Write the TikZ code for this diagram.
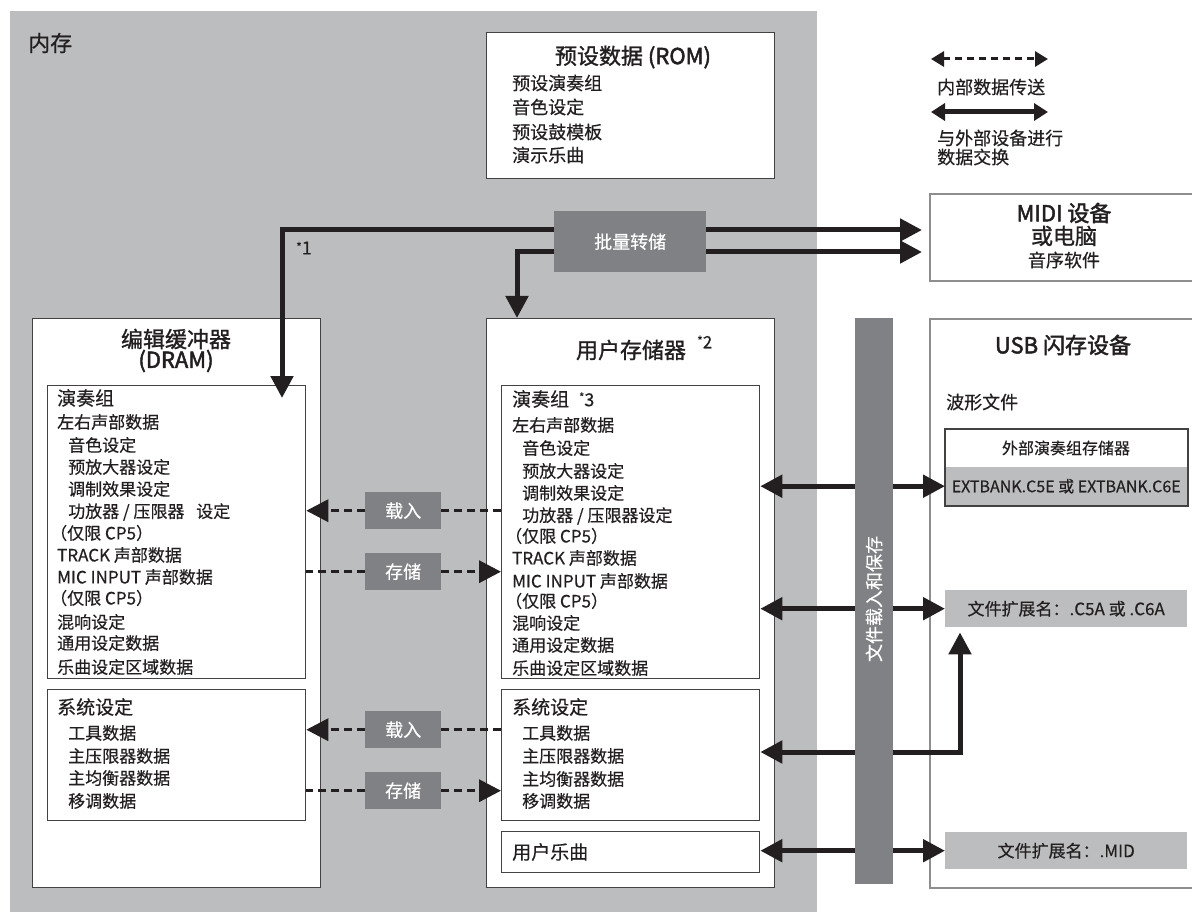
\documentclass[tikz,border=0pt]{standalone}
\usepackage{fontspec}
\setmainfont{Noto Sans CJK SC}[FakeBold=0.4]
\newfontfamily\medfont{Noto Sans CJK SC}[FakeBold=1.2]
\newfontfamily\boldlat{Noto Sans CJK SC}[FakeBold=2.2]
\usetikzlibrary{arrows.meta}
\definecolor{memgray}{HTML}{BCBDBF}
\definecolor{darkbox}{HTML}{808184}
\definecolor{ink}{HTML}{231F20}
\definecolor{extgray}{HTML}{8E8E8E}
\newcommand{\fs}[1]{\fontsize{#1}{#1}\selectfont}
\newcommand{\sstar}{\raisebox{5pt}{\fs{11}*}}
\tikzset{
  membox/.style={draw=ink!85, line width=1.3pt, fill=white, anchor=north west, inner sep=0pt, rectangle},
  extbox/.style={draw=extgray, line width=2.2pt, fill=white, anchor=north west, inner sep=0pt, rectangle},
  tagbox/.style={fill=darkbox, text=white, font=\fs{18}, inner sep=0pt, anchor=north west, rectangle},
  graybox/.style={fill=memgray, text=ink, font=\fs{17}, inner sep=0pt, anchor=north west, rectangle},
  itm/.style={anchor=west, inner sep=0pt, font=\fs{17}, text=ink},
  hd/.style={anchor=west, inner sep=0pt, font=\fs{19}, text=ink},
  ttl/.style={anchor=center, inner sep=0pt, font=\medfont\fs{22}, text=ink},
  bigarrow/.style={draw=ink, line width=5pt, -{Triangle[length=22pt,width=22pt]}},
  bigboth/.style={draw=ink, line width=5pt, {Triangle[length=22pt,width=22pt]}-{Triangle[length=22pt,width=22pt]}},
  dashar/.style={draw=ink, line width=3.5pt, dash pattern=on 8pt off 5pt, -{Triangle[length=22pt,width=22pt]}},
  dashln/.style={draw=ink, line width=3.5pt, dash pattern=on 8pt off 5pt},
  legdash/.style={draw=ink, line width=3pt, dash pattern=on 7pt off 5pt, {Triangle[length=13pt,width=15pt]}-{Triangle[length=13pt,width=15pt]}},
  legsolid/.style={draw=ink, line width=5pt, {Triangle[length=14pt,width=17pt]}-{Triangle[length=14pt,width=17pt]}},
}
\begin{document}
\begin{tikzpicture}[x=1pt,y=-1pt]
\useasboundingbox (0,0) rectangle (1192,912);
\fill[white] (0,0) rectangle (1192,912);
% memory area
\node[fill=memgray, anchor=north west, minimum width=807, minimum height=901, inner sep=0pt] (mem) at (10,11) {};
\node[anchor=west, inner sep=0pt, font=\fs{22}, text=ink] (memlbl) at (28,43) {内存};

% ROM box
\node[membox, minimum width=288, minimum height=146] (rom) at (486,32) {};
\node[ttl] (romt) at (633,57) {预设数据 {\boldlat(ROM)}};
\node[itm, font=\fs{18}] (rom1) at (512,83) {预设演奏组};
\node[itm, font=\fs{18}] (rom2) at (512,107) {音色设定};
\node[itm, font=\fs{18}] (rom3) at (512,132) {预设鼓模板};
\node[itm, font=\fs{18}] (rom4) at (512,155) {演示乐曲};

% legend
\coordinate (lga) at (931,59);
\coordinate (lgb) at (1048,59);
\draw[legdash] (lga) -- (lgb);
\node[itm, font=\fs{18}] (lgt1) at (937,87) {内部数据传送};
\coordinate (lgc) at (931,112);
\coordinate (lgd) at (1048,112);
\draw[legsolid] (lgc) -- (lgd);
\node[itm, font=\fs{18}] (lgt2) at (937,138) {与外部设备进行};
\node[itm, font=\fs{18}] (lgt3) at (937,157) {数据交换};

% MIDI box
\node[extbox, minimum width=290, minimum height=87] (midi) at (929,193) {};
\node[ttl, font=\boldlat\fs{22}] (midit1) at (1064,213) {MIDI 设备};
\node[ttl] (midit2) at (1064,236) {或电脑};
\node[ttl, font=\fs{18}] (midit3) at (1064,260) {音序软件};

% left box (edit buffer)
\node[membox, minimum width=288, minimum height=569] (left) at (32,318) {};
\node[ttl] (leftt1) at (176,339) {编辑缓冲器};
\node[ttl, font=\boldlat\fs{22}] (leftt2) at (176,361) {(DRAM)};
\node[membox, minimum width=258, minimum height=293] (leftA) at (47,385) {};
\node[hd] (la1) at (57,398) {演奏组};
\node[itm] (la2) at (57,422) {左右声部数据};
\node[itm] (la3) at (68,445) {音色设定};
\node[itm] (la4) at (68,467) {预放大器设定};
\node[itm] (la5) at (68,489) {调制效果设定};
\node[itm] (la6) at (68,512) {功放器 / 压限器\hspace{8pt} 设定};
\node[itm] (la7) at (50,533) {（仅限 CP5）};
\node[itm] (la8) at (57,555) {TRACK 声部数据};
\node[itm] (la9) at (57,577) {MIC INPUT 声部数据};
\node[itm] (la10) at (50,598) {（仅限 CP5）};
\node[itm] (la11) at (57,622) {混响设定};
\node[itm] (la12) at (57,643) {通用设定数据};
\node[itm] (la13) at (57,667) {乐曲设定区域数据};
\node[membox, minimum width=258, minimum height=131] (leftS) at (47,689) {};
\node[hd] (ls1) at (57,707) {系统设定};
\node[itm] (ls2) at (68,733) {工具数据};
\node[itm] (ls3) at (68,756) {主压限器数据};
\node[itm] (ls4) at (68,778) {主均衡器数据};
\node[itm] (ls5) at (68,801) {移调数据};

% middle box (user memory)
\node[membox, minimum width=288, minimum height=569] (mid) at (486,318) {};
\node[ttl] (midt) at (631,350) {用户存储器};
\node[anchor=west, inner sep=0pt, font=\fs{17}, text=ink] (s2) at (697,342) {\raisebox{3pt}{\fs{12}*}2};
\node[membox, minimum width=258, minimum height=293] (midA) at (501,385) {};
\node[hd] (ma1) at (512,399) {演奏组\hspace{10pt}\sstar{\fs{18}3}};
\node[itm] (ma2) at (512,425) {左右声部数据};
\node[itm] (ma3) at (522,448) {音色设定};
\node[itm] (ma4) at (522,471) {预放大器设定};
\node[itm] (ma5) at (522,493) {调制效果设定};
\node[itm] (ma6) at (522,516) {功放器 / 压限器设定};
\node[itm] (ma7) at (505,536) {（仅限 CP5）};
\node[itm] (ma8) at (512,558) {TRACK 声部数据};
\node[itm] (ma9) at (512,581) {MIC INPUT 声部数据};
\node[itm] (ma10) at (505,601) {（仅限 CP5）};
\node[itm] (ma11) at (512,623) {混响设定};
\node[itm] (ma12) at (512,645) {通用设定数据};
\node[itm] (ma13) at (512,668) {乐曲设定区域数据};
\node[membox, minimum width=258, minimum height=131] (midS) at (501,689) {};
\node[hd] (ms1) at (512,707) {系统设定};
\node[itm] (ms2) at (522,733) {工具数据};
\node[itm] (ms3) at (522,756) {主压限器数据};
\node[itm] (ms4) at (522,779) {主均衡器数据};
\node[itm] (ms5) at (522,801) {移调数据};
\node[membox, minimum width=258, minimum height=41] (midU) at (501,831) {};
\node[hd] (mu1) at (512,852) {用户乐曲};

% USB box
\node[extbox, minimum width=290, minimum height=569] (usb) at (929,318) {};
\node[ttl, font=\boldlat\fs{22}] (usbt) at (1063,345) {USB 闪存设备};
\node[itm, font=\fs{18}] (wave) at (946,402) {波形文件};
\node[membox, minimum width=242, minimum height=76] (extbank) at (945,429) {};
\node[ttl, font=\fs{16}] (extt) at (1066,448) {外部演奏组存储器};
\node[graybox, minimum width=242, minimum height=38, font=\fs{16}] (ext1) at (945,467) {EXTBANK.C5E 或 EXTBANK.C6E};
\draw[draw=ink!85, line width=1.3pt] (extbank.north west) rectangle (extbank.south east);
\node[graybox, minimum width=242, minimum height=37] (c5a) at (945,590) {文件扩展名：.C5A 或 .C6A};
\node[graybox, minimum width=242, minimum height=37] (midfile) at (945,832) {文件扩展名：.MID};

% external exchange arrows (USB)
\draw[bigboth] (ext1.west -| midA.east) -- (ext1.west);
\draw[bigboth] (c5a.west -| midA.east) -- (c5a.west);
\coordinate (r3) at (960,752);
\draw[bigboth, shorten >=5pt] (r3 -| midS.east) -- (r3) -- (r3 |- c5a.south);
\draw[bigboth] (midfile.west -| midU.east) -- (midfile.west);

% file load/save bar
\node[fill=darkbox, anchor=north west, minimum width=38, minimum height=566, inner sep=0pt] (bar) at (855,318) {};
\node[rotate=90, text=white, font=\fs{18}, inner sep=0pt] (bart) at (874,599) {文件载入和保存};

% bulk dump
\node[tagbox, minimum width=152, minimum height=61] (batch) at (554,211) {批量转储};
\coordinate (k1) at (282,230);
\coordinate (t1) at (282,398);
\coordinate (k2) at (517,252);
\draw[bigarrow] (batch.west |- k1) -- (k1) -- (t1);
\draw[bigarrow, shorten >=7pt] (batch.east |- k1) -- (k1 -| midi.west);
\draw[bigarrow] (batch.west |- k2) -- (k2) -- (k2 |- mid.north);
\draw[bigarrow, shorten >=7pt] (batch.east |- k2) -- (k2 -| midi.west);
\node[anchor=west, inner sep=0pt, font=\fs{18}, text=ink] (s1) at (296,248) {\raisebox{3pt}{\fs{12}*}1};

% internal transfers
\node[tagbox, minimum width=76, minimum height=37] (load1) at (365,492) {载入};
\node[tagbox, minimum width=76, minimum height=37] (store1) at (365,553) {存储};
\node[tagbox, minimum width=76, minimum height=37] (load2) at (365,711) {载入};
\node[tagbox, minimum width=76, minimum height=37] (store2) at (365,772) {存储};
\draw[dashln] (load1.east) -- (load1.east -| midA.west);
\draw[dashar] (load1.west) -- (load1.west -| leftA.east);
\draw[dashln] (store1.west) -- (store1.west -| leftA.east);
\draw[dashar] (store1.east) -- (store1.east -| midA.west);
\draw[dashln] (load2.east) -- (load2.east -| midS.west);
\draw[dashar] (load2.west) -- (load2.west -| leftS.east);
\draw[dashln] (store2.west) -- (store2.west -| leftS.east);
\draw[dashar] (store2.east) -- (store2.east -| midS.west);
\end{tikzpicture}
\end{document}
